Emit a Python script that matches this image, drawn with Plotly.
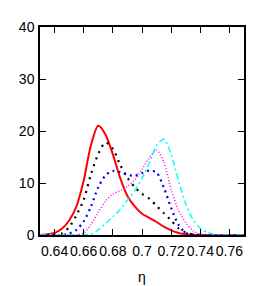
import plotly.graph_objects as go

eta = [0.630, 0.640, 0.645, 0.650, 0.655, 0.660, 0.665, 0.670, 0.675, 0.680,
       0.685, 0.690, 0.695, 0.700, 0.705, 0.710, 0.715, 0.720, 0.725, 0.730,
       0.735, 0.740, 0.745, 0.750, 0.755, 0.760, 0.770]

red = [0.0, 0.4, 1.2, 2.8, 5.5, 10.5, 17.3, 21.0, 19.3, 15.5,
       11.0, 7.5, 5.5, 4.1, 3.3, 2.5, 1.6, 0.9, 0.4, 0.15,
       0.05, 0.0, 0.0, 0.0, 0.0, 0.0, 0.0]
black = [0.0, 0.0, 0.3, 1.5, 3.8, 6.8, 11.7, 15.6, 17.8, 16.6,
         13.5, 11.0, 9.2, 7.9, 7.0, 5.6, 4.2, 2.8, 1.3, 0.5,
         0.1, 0.0, 0.0, 0.0, 0.0, 0.0, 0.0]
blue = [0.0, 0.0, 0.0, 0.3, 1.0, 2.6, 5.5, 9.2, 11.5, 12.3,
        12.1, 11.6, 11.4, 11.9, 12.4, 12.0, 9.1, 5.2, 2.0, 0.4,
        0.1, 0.0, 0.0, 0.0, 0.0, 0.0, 0.0]
magenta = [0.0, 0.0, 0.0, 0.0, 0.0, 0.4, 2.0, 4.4, 6.5, 7.9,
           8.5, 9.3, 10.6, 12.6, 14.8, 16.3, 14.0, 8.8, 4.8, 2.4,
           0.8, 0.2, 0.0, 0.0, 0.0, 0.0, 0.0]
cyan = [0.0, 0.0, 0.0, 0.0, 0.0, 0.0, 0.2, 1.0, 2.2, 3.5,
        4.9, 6.7, 8.5, 10.9, 13.8, 17.2, 18.4, 15.5, 10.5, 6.0,
        3.0, 1.3, 0.5, 0.1, 0.0, 0.0, 0.0]

x_ticks = [0.64, 0.66, 0.68, 0.70, 0.72, 0.74, 0.76]
x_tick_labels = ["0.64", "0.66", "0.68", "0.7", "0.72", "0.74", "0.76"]
y_ticks = [0, 10, 20, 30, 40]

series = [
    (red, "#ff0000", "solid", 2),
    (black, "#000000", "2px,5px", 2.2),
    (blue, "#0000ff", "2px,4px", 2.2),
    (magenta, "#ff00ff", "1px,2px", 1.5),
    (cyan, "#00ffff", "6px,3px,2px,3px", 1.5),
]

fig = go.Figure()
for ys, col, dash, w in series:
    fig.add_trace(go.Scatter(x=eta, y=ys, mode="lines",
                             line=dict(color=col, dash=dash, width=w,
                                       shape="spline", smoothing=0.8),
                             showlegend=False, hoverinfo="skip"))

font = dict(family="Liberation Sans, Arial, sans-serif", size=14, color="#000000")

fig.update_layout(
    width=270, height=286,
    margin=dict(l=29, r=34, t=11, b=59),
    paper_bgcolor="white", plot_bgcolor="white",
    font=font,
)
fig.update_xaxes(range=[0.63, 0.77], tickvals=x_ticks, ticktext=x_tick_labels,
                 tickangle=0, ticklabelstandoff=2,
                 ticks="inside", ticklen=6, tickwidth=1.3, tickcolor="#000000",
                 showline=True, linecolor="#000000", linewidth=1.5,
                 mirror="ticks", showgrid=False, zeroline=False,
                 title=dict(text="η", font=font))
fig.update_yaxes(range=[0, 40], tickvals=y_ticks, ticklabelstandoff=1,
                 ticks="inside", ticklen=6, tickwidth=1.3, tickcolor="#000000",
                 showline=True, linecolor="#000000", linewidth=1.5,
                 mirror="ticks", showgrid=False, zeroline=False)

fig.write_html("out.html")
